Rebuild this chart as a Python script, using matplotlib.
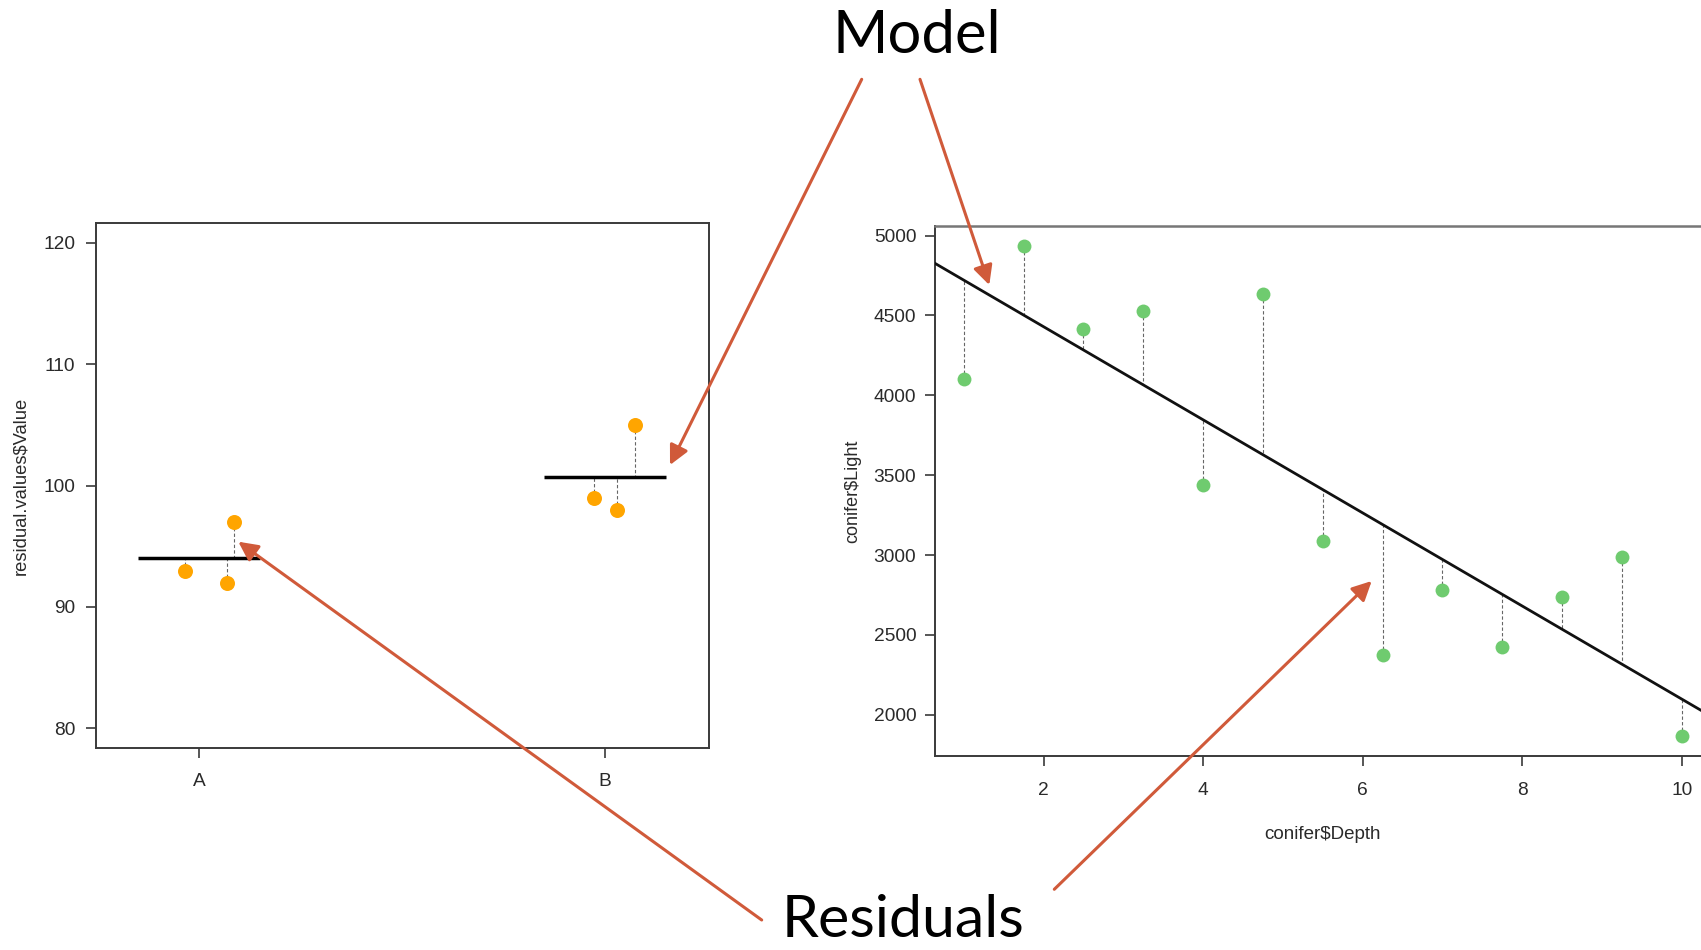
import numpy as np
import matplotlib
matplotlib.use('Agg')
from matplotlib import pyplot as plt
from matplotlib.patches import FancyArrowPatch

#########################################
### Data
#########################################
groups = ['A', 'B']
a_jitter = [0.965, 1.068, 1.085]
a_value = [93, 92, 97]
b_jitter = [1.974, 2.031, 2.075]
b_value = [99, 98, 105]

depth = [1, 1.75, 2.5, 3.25, 4, 4.75, 5.5, 6.25, 7, 7.75, 8.5, 9.25, 10]
light = [4105, 4936, 4417, 4530, 3441, 4637, 3086, 2375, 2779, 2424, 2738, 2986, 1869]

W, H = 1701, 950
fig = plt.figure(figsize=(W / 100, H / 100), dpi=100)
fig.patch.set_facecolor('white')

tick_col = '#2a2a2a'
box_col = '#3a3a3a'
r_font = 'Liberation Sans'
arrow_col = '#D05A3A'


def r_style(ax):
    for s in ax.spines.values():
        s.set_color(box_col)
        s.set_linewidth(1.4)
    ax.tick_params(length=7.5, width=1.2, color=box_col, labelcolor=tick_col, labelsize=13.8)
    for lab in ax.get_xticklabels() + ax.get_yticklabels():
        lab.set_fontfamily(r_font)


#########################################
### Left panel: group means
#########################################
ax1 = fig.add_axes([95.5 / W, 1 - 747.7 / H, 613 / W, 524.3 / H])
ax1.set_xlim(0.744, 2.256)
ax1.set_ylim(78.4, 121.6)
for k, (xs, ys) in enumerate([(a_jitter, a_value), (b_jitter, b_value)]):
    m = np.mean(ys)
    ax1.plot([k + 1 - 0.15, k + 1 + 0.15], [m, m], color='black', lw=2.5, solid_capstyle='butt', zorder=3)
    for x, y in zip(xs, ys):
        ax1.plot([x, x], [y, m], color='#666666', lw=0.8, ls=(0, (3, 2)), zorder=2)
    ax1.plot(xs, ys, 'o', color='#FFA500', ms=10.8, mec='none', zorder=4)
ax1.set_xticks([1, 2])
ax1.set_xticklabels(groups)
ax1.set_yticks([80, 90, 100, 110, 120])
r_style(ax1)
ax1.tick_params(axis='x', pad=11)
ax1.tick_params(axis='y', pad=7)
ax1.set_ylabel('residual.values$Value', fontfamily=r_font, fontsize=13.2, color=tick_col, labelpad=10)

#########################################
### Right panel: regression
#########################################
ax2 = fig.add_axes([935 / W, 1 - 756 / H, 775.6 / W, 529.7 / H])
ax2.set_xlim(0.64, 10.36)
ax2.set_ylim(1742, 5058)
slope, icpt = np.polyfit(depth, light, 1)
ax2.axline((0, icpt), slope=slope, color='#111111', lw=2.0, zorder=3)
for x, y in zip(depth, light):
    ax2.plot([x, x], [y, icpt + slope * x], color='#666666', lw=0.8, ls=(0, (3, 2)), zorder=2)
ax2.plot(depth, light, 'o', color='#6FCB6F', ms=10.0, mec='none', zorder=4)
ax2.set_xticks([2, 4, 6, 8, 10])
ax2.set_yticks([2000, 2500, 3000, 3500, 4000, 4500, 5000])
r_style(ax2)
ax2.spines['top'].set_color('#777777')
ax2.spines['top'].set_linewidth(1.8)
ax2.tick_params(axis='x', pad=11)
ax2.tick_params(axis='y', pad=6)
ax2.set_xlabel('conifer$Depth', fontfamily=r_font, fontsize=13.5, color=tick_col, labelpad=20)
ax2.set_ylabel('conifer$Light', fontfamily=r_font, fontsize=13.0, color=tick_col, labelpad=9)

#########################################
### Annotations
#########################################
fig.text(916.7 / W, 1 - 53.3 / H, 'Model', fontfamily='Lato', fontsize=43,
         ha='center', va='baseline', color='black')
fig.text(903 / W, 1 - 936.7 / H, 'Residuals', fontfamily='Lato', fontsize=42.5,
         ha='center', va='baseline', color='black')

arrows = [((861.7, 79.3), (670.0, 465.0)),
          ((920.0, 79.3), (989.3, 285.0)),
          ((761.7, 920.0), (238.3, 541.7)),
          ((1054.3, 889.3), (1371.7, 581.0))]
for (x0, y0), (x1, y1) in arrows:
    fig.add_artist(FancyArrowPatch((x0 / W, 1 - y0 / H), (x1 / W, 1 - y1 / H),
                                   transform=fig.transFigure,
                                   arrowstyle='-|>,head_length=0.9,head_width=0.45',
                                   mutation_scale=13, color=arrow_col, lw=2.2,
                                   shrinkA=0, shrinkB=0, zorder=10))

fig.savefig('out.png', dpi=100)
